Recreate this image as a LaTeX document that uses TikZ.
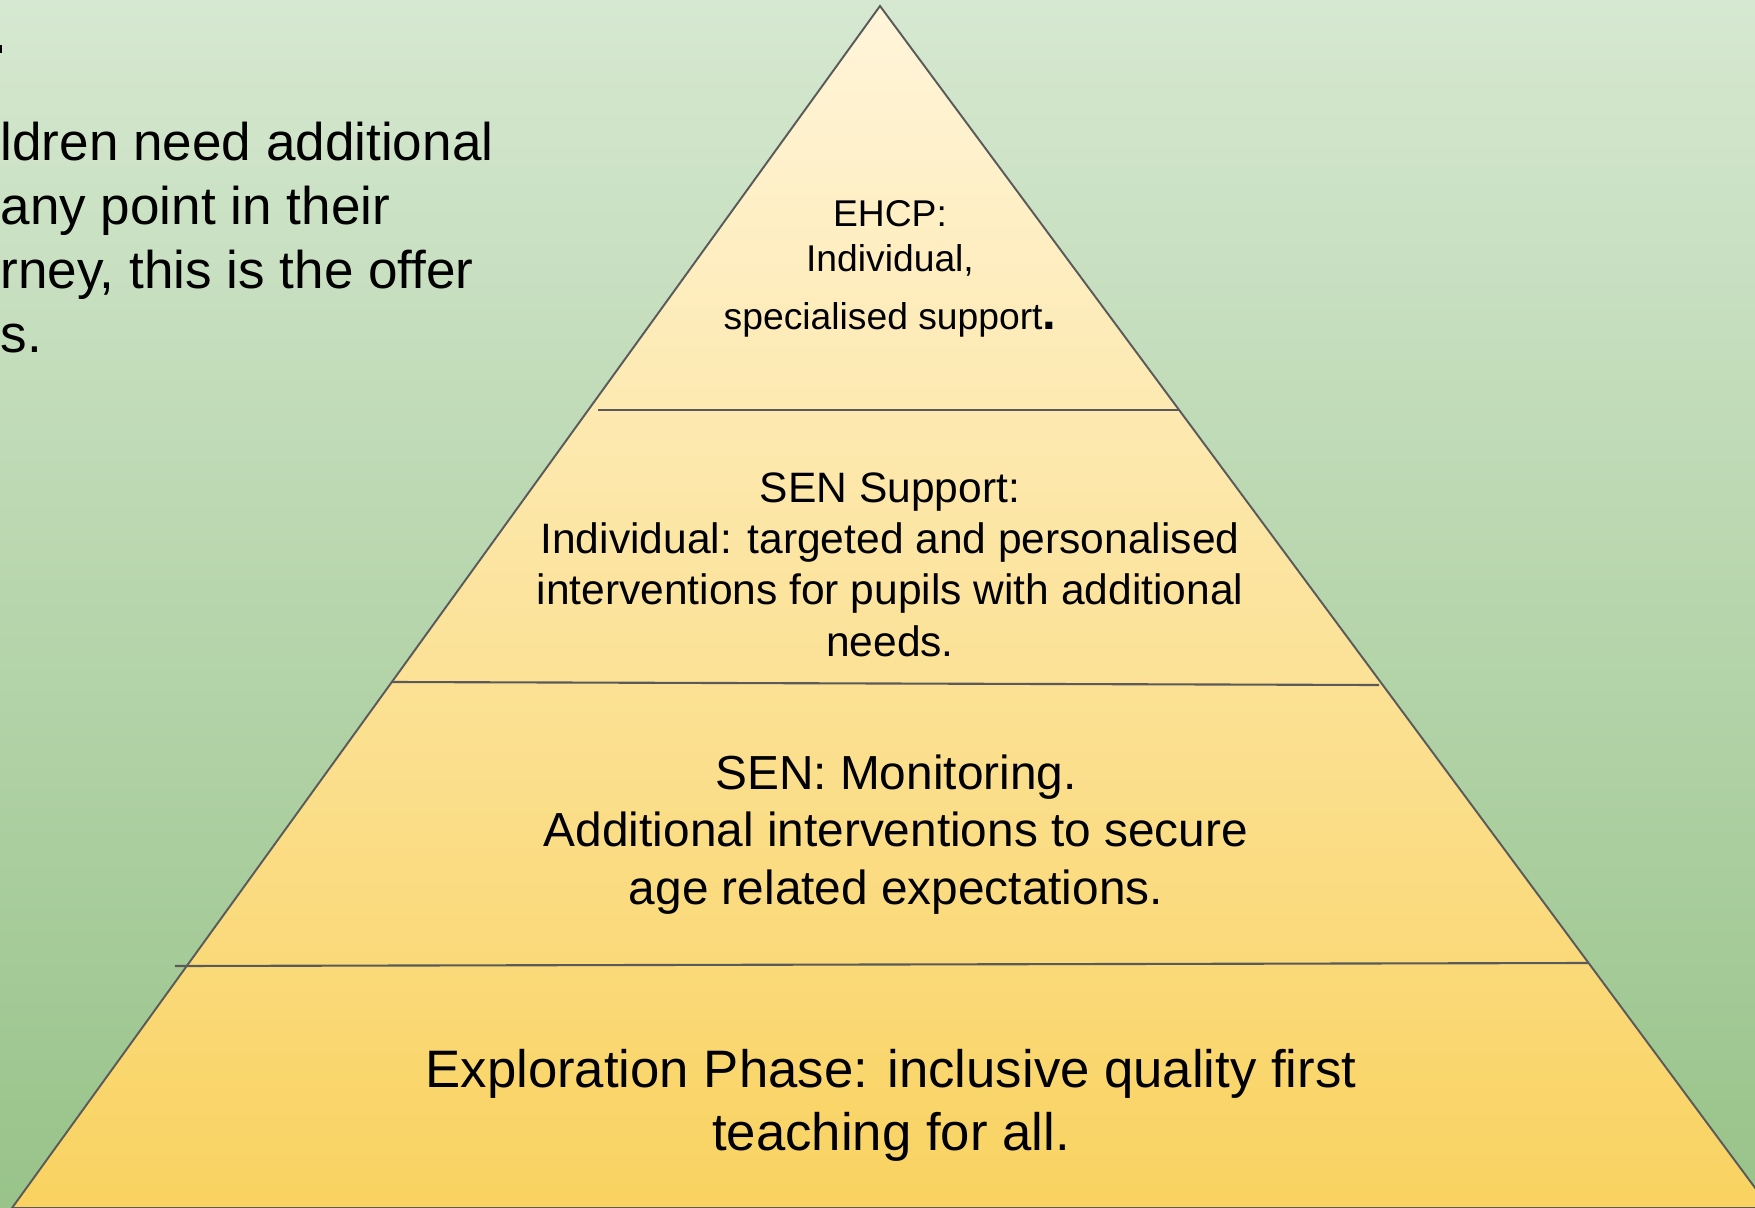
\documentclass[tikz,border=0pt]{standalone}
\usepackage{xcolor}
\usepackage{fontspec}
\setmainfont{Liberation Sans}
\usetikzlibrary{positioning, calc}

\definecolor{bgtop}{RGB}{214,232,209}
\definecolor{bgbottom}{RGB}{152,195,137}
\definecolor{pyrtop}{RGB}{255,245,218}
\definecolor{pyrbottom}{RGB}{249,210,96}
\definecolor{edgegray}{RGB}{90,90,90}

\begin{document}
\begin{tikzpicture}[
                x=0.1mm, y=-0.1mm,
                tierline/.style={draw=edgegray, line width=0.6pt},
                tiertext/.style={align=center, anchor=base, inner sep=0pt},
                introtext/.style={align=left, anchor=base west, inner sep=0pt,
                    font=\fontsize{15.1}{18.2}\selectfont}
            ]
                \useasboundingbox (0,0) rectangle (1755,1208);
                \clip (0,0) rectangle (1755,1208);

                % Background
                \shade[top color=bgtop, bottom color=bgbottom] (0,0) rectangle (1755,1208);
                \fill (0,45) rectangle (2,53);

                % Pyramid
                \coordinate (apex) at (880,6);
                \coordinate (baseL) at (12,1208);
                \coordinate (baseR) at (1770,1208);
                \shadedraw[top color=pyrtop, bottom color=pyrbottom, draw=edgegray, line width=0.55pt]
                    (apex) -- (baseL) -- (baseR) -- cycle;

                % Tier dividers
                \coordinate (t1L) at (598,410);
                \coordinate (t1R) at (1179,410);
                \coordinate (t2L) at (392,682);
                \coordinate (t2R) at (1379,685);
                \coordinate (t3L) at (175,966);
                \coordinate (t3R) at (1588,963);
                \draw[tierline] (t1L) -- (t1R);
                \draw[tierline] (t2L) -- (t2R);
                \draw[tierline] (t3L) -- (t3R);

                % Nodes (placed at the baseline of their last line)
                \node[introtext] (intro) at (0,352)
                    {ldren need additional\\any point in their\\rney, this is the offer\\s.};
                \node[tiertext, font=\fontsize{10.6}{12.8}\selectfont] (ehcp) at (890,329)
                    {EHCP:\\Individual,\\[3.7pt]specialised support{\fontsize{14}{14}\selectfont\bfseries .}};
                \node[tiertext, font=\fontsize{12.1}{14.6}\selectfont] (support) at (890,656)
                    {SEN Support:\\Individual: targeted and personalised\\interventions for pupils with additional\\needs.};
                \node[tiertext, font=\fontsize{13.6}{16.3}\selectfont] (monitor) at (896,904)
                    {SEN: Monitoring.\\Additional interventions to secure\\age related expectations.};
                \node[tiertext, font=\fontsize{15}{17.9}\selectfont] (explore) at (891,1150)
                    {Exploration Phase: inclusive quality first\\teaching for all.};
            \end{tikzpicture}
\end{document}
